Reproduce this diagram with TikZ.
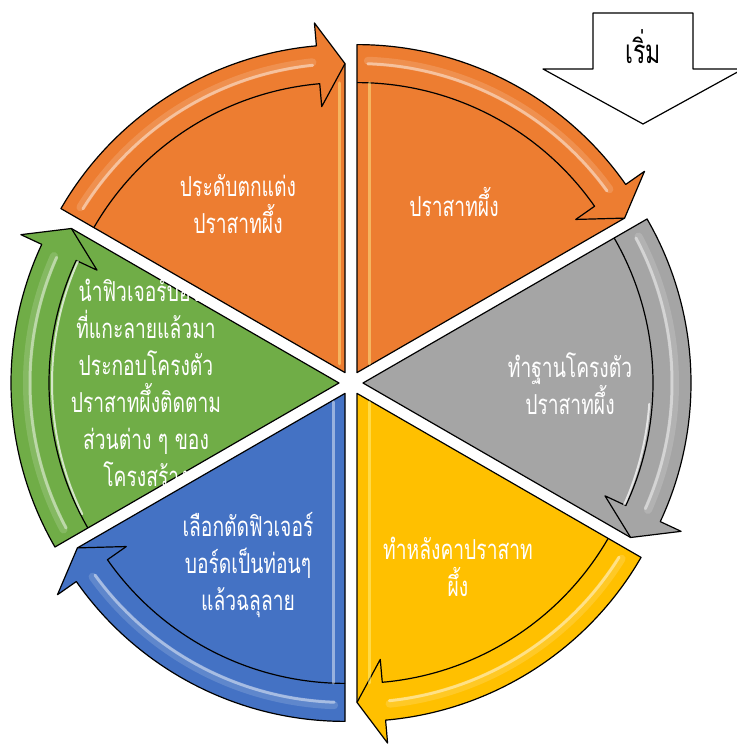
\documentclass[tikz,border=0pt]{standalone}
\usepackage{fontspec}
\newfontfamily\thaifont[Script=Thai,FakeStretch=0.7]{Loma}

\definecolor{cOrange}{HTML}{ED7D31}
\definecolor{cGray}{HTML}{A5A5A5}
\definecolor{cGold}{HTML}{FFC000}
\definecolor{cBlue}{HTML}{4472C4}
\definecolor{cGreen}{HTML}{70AD47}

\tikzset{
  part/.style={draw=black, line width=1.2pt, line join=round},
  gloss/.style={draw=white, line width=3pt, opacity=0.45, line cap=round},
  txt/.style={text=white, align=center, inner sep=0pt,
    font=\thaifont\fontsize{27.5}{37}\selectfont},
}

% one slice of the cycle: #1 = angle where its arrow starts, #2 = colour
\newcommand{\cyclepart}[2]{%
  \begin{scope}[shift={(#1-30:12)}]
    \pgfmathsetmacro\cpTail{#1}
    \pgfmathsetmacro\cpHead{#1-60}
    \pgfmathsetmacro\cpBase{#1-55}
    \filldraw[part, fill=#2] (0,0) -- (\cpTail:328)
      arc[start angle=\cpTail, end angle=\cpBase, radius=328]
      -- (\cpBase:351) -- (\cpHead:309) -- cycle;
    \draw[part] (\cpTail:290)
      arc[start angle=\cpTail, end angle=\cpBase, radius=290]
      -- (\cpBase:267) -- (\cpHead:309);
    \draw[gloss, line width=8pt, opacity=0.15] (\cpTail-2:312)
      arc[start angle=\cpTail-2, end angle=\cpBase+1, radius=312];
    \draw[gloss] (\cpTail-2:309)
      arc[start angle=\cpTail-2, end angle=\cpBase+1, radius=309];
  \end{scope}}

\begin{document}
\begin{tikzpicture}[x=1pt, y=1pt]
\useasboundingbox (0,0) rectangle (736,744);

\begin{scope}[shift={(351,361)}]
\cyclepart{210}{cGreen}
\draw[gloss, opacity=0.7, line width=2pt] (156:299) arc[start angle=156, end angle=206, radius=299];
\end{scope}
\node[txt] (mount) at (146,362) {นำฟิวเจอร์บอร์ด\\ที่แกะลายแล้วมา\\ประกอบโครงตัว\\ปราสาทผึ้งติดตาม\\ส่วนต่าง ๆ ของ\\โครงสร้าง};

\begin{scope}[shift={(351,361)}]
\cyclepart{150}{cOrange}
\draw[gloss, draw=yellow!40!white] (-12,19) -- (-12,300);
\end{scope}
\node[txt] (deco) at (238,540) {ประดับตกแต่ง\\ปราสาทผึ้ง};

\begin{scope}[shift={(351,361)}]
\cyclepart{90}{cOrange}
\draw[gloss, draw=yellow!40!white] (18,19) -- (18,300);
\end{scope}
\node[txt] (wax) at (454,542) {ปราสาทผึ้ง};

\begin{scope}[shift={(351,361)}]
\cyclepart{30}{cGray}
\draw[gloss, opacity=0.7, line width=2pt] (-4:299) arc[start angle=-4, end angle=-24, radius=299];
\end{scope}
\node[txt] (base) at (570,360) {ทำฐานโครงตัว\\ปราสาทผึ้ง};

\begin{scope}[shift={(351,361)}]
\cyclepart{-30}{cGold}
\draw[gloss, draw=yellow!40!white] (18,-19) -- (18,-300);
\end{scope}
\node[txt] (roof) at (458,177) {ทำหลังคาปราสาท\\ผึ้ง};

\begin{scope}[shift={(351,361)}]
\cyclepart{-90}{cBlue}
\draw[gloss] (-18,-19) -- (-18,-300);
\end{scope}
\node[txt] (cut) at (248,179) {เลือกตัดฟิวเจอร์\\บอร์ดเป็นท่อนๆ\\แล้วฉลุลาย};

\draw[part, fill=white] (593,731) -- (693,731) -- (693,675) -- (743,675)
  -- (643,620) -- (543,675) -- (593,675) -- cycle;
\node[font=\thaifont\fontsize{33}{36}\selectfont] (start) at (643,697) {เริ่ม};

\end{tikzpicture}
\end{document}
